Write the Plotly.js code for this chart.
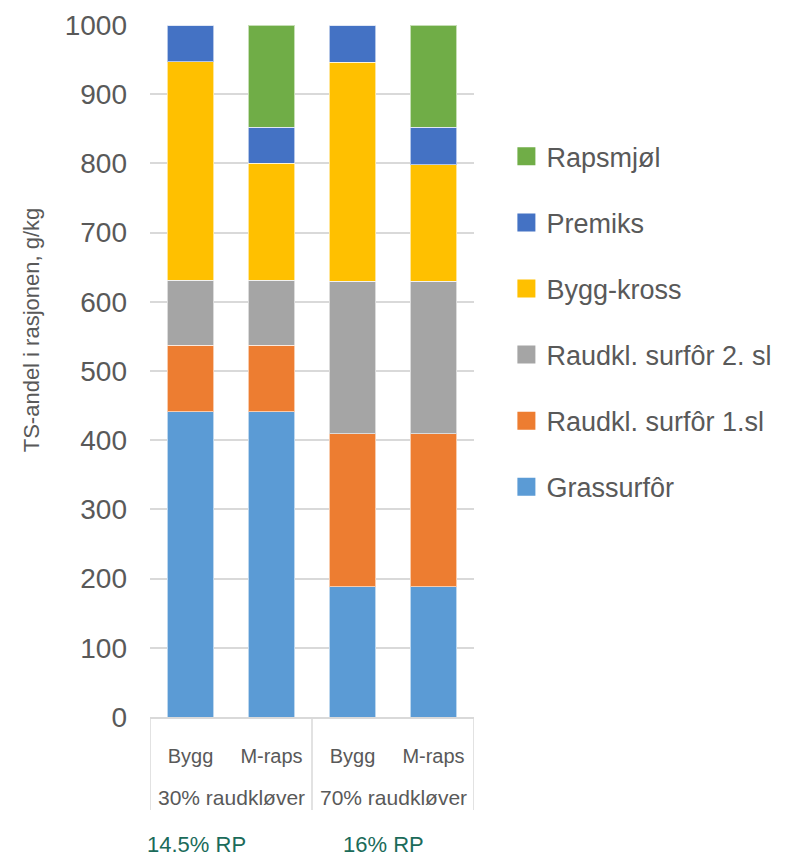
<!DOCTYPE html>
<html>
<head>
<meta charset="utf-8">
<script src="https://cdn.plot.ly/plotly-3.0.1.min.js"></script>
<style>body{margin:0;padding:0;background:#fff;}#chart{width:789px;height:859px;}</style>
</head>
<body>
<div id="chart"></div>
<script>
const groups = ["30% raudkløver", "30% raudkløver", "70% raudkløver", "70% raudkløver"];
const feeds = ["Bygg", "M-raps", "Bygg", "M-raps"];
const groupNames = ["30% raudkløver", "70% raudkløver"];

const grassurfor = [441, 441, 188, 188];
const raudkl1 = [96, 96, 221, 221];
const raudkl2 = [94, 94, 221, 221];
const byggKross = [316, 169, 316, 168];
const premiks = [53, 52, 54, 54];
const rapsmjol = [0, 148, 0, 148];

const seriesNames = ["Grassurfôr", "Raudkl. surfôr 1.sl", "Raudkl. surfôr 2. sl", "Bygg-kross", "Premiks", "Rapsmjøl"];
const seriesValues = [grassurfor, raudkl1, raudkl2, byggKross, premiks, rapsmjol];
const seriesColors = ["#5B9BD5", "#ED7D31", "#A5A5A5", "#FFC000", "#4472C4", "#70AD47"];

const rpLabels = ["14.5% RP", "16% RP"];
const yTicks = [0, 100, 200, 300, 400, 500, 600, 700, 800, 900, 1000];

const font = "Liberation Sans, Arial, sans-serif";
const txt = "#595959";
const xKeys = groups.map((g, i) => g + " | " + feeds[i]);

const traces = seriesNames.map((n, i) => ({
  type: "bar",
  name: n,
  x: xKeys,
  y: seriesValues[i],
  marker: {color: seriesColors[i], line: {color: "rgba(255,255,255,0.6)", width: 1}},
  showlegend: false,
  hoverinfo: "y+name"
}));

// legend entries (top to bottom: reversed stacking order), larger square swatches
for (let i = seriesNames.length - 1; i >= 0; i--) {
  traces.push({
    type: "scatter", mode: "markers", name: seriesNames[i],
    x: [null], y: [null],
    marker: {symbol: "square", size: 16, color: seriesColors[i], line: {color: seriesColors[i], width: 2}},
    legendgroup: "g" + i, showlegend: true, hoverinfo: "skip"
  });
}

const dividerY = (717 - 810) / 692;
const shapes = [-0.5, 1.5, 3.5].map(xv => ({
  type: "line", xref: "x", yref: "paper", x0: xv, x1: xv, y0: 0, y1: dividerY,
  line: {color: "#D9D9D9", width: 1.5}
}));

const annotations = [
  {text: "TS-andel i rasjonen, g/kg", textangle: -90, xref: "paper", yref: "paper",
   x: -0.367, y: 0.559, xanchor: "center", yanchor: "middle", showarrow: false,
   font: {size: 22, color: txt, family: font}},
  {text: rpLabels[0], xref: "paper", yref: "paper", x: 0.144, y: (717 - 844) / 692,
   xanchor: "center", yanchor: "middle", showarrow: false,
   font: {size: 22, color: "#1B6B5A", family: font}},
  {text: rpLabels[1], xref: "paper", yref: "paper", x: 0.72, y: (717 - 844) / 692,
   xanchor: "center", yanchor: "middle", showarrow: false,
   font: {size: 22, color: "#1B6B5A", family: font}}
];
groupNames.forEach((g, k) => annotations.push({
  text: g, xref: "x", yref: "paper", x: 0.5 + 2 * k, y: (717 - 797) / 692,
  xanchor: "center", yanchor: "middle", showarrow: false,
  font: {size: 21, color: txt, family: font}
}));

const layout = {
  width: 789, height: 859,
  margin: {l: 150, r: 312, t: 25, b: 142},
  barmode: "stack",
  bargap: 0.425,
  paper_bgcolor: "#fff",
  plot_bgcolor: "#fff",
  font: {family: font, color: txt, size: 20},
  xaxis: {
    type: "category",
    range: [-0.5, 3.5],
    tickvals: xKeys, ticktext: feeds,
    showline: true, linecolor: "#D9D9D9", linewidth: 1.5,
    tickfont: {size: 20, color: txt, family: font},
    ticks: "", showgrid: false, ticklabelstandoff: 20
  },
  yaxis: {
    range: [0, 1000],
    tickvals: yTicks,
    ticktext: yTicks.map(String),
    showgrid: true, gridcolor: "#D9D9D9", gridwidth: 1.5,
    zeroline: false, showline: false,
    tickfont: {size: 28, color: txt, family: font},
    ticklabelstandoff: 22
  },
  legend: {
    x: 1.1, xanchor: "left", y: 0.845, yanchor: "top",
    traceorder: "grouped",
    tracegroupgap: 28,
    font: {size: 27, color: txt, family: font},
    itemwidth: 30, itemsizing: "trace"
  },
  shapes: shapes,
  annotations: annotations
};

Plotly.newPlot("chart", traces, layout, {displayModeBar: false, responsive: false});
</script>
</body>
</html>
